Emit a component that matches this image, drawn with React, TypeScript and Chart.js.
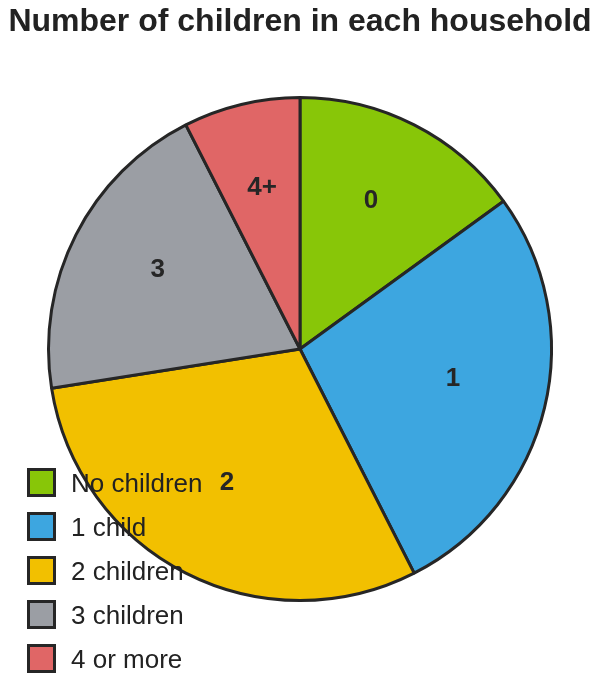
import React, { useEffect, useRef } from 'react';
import Chart from 'chart.js/auto';

// slice order: clockwise from 12 o'clock
const categories = ['0', '1', '2', '3', '4+'];
const legendLabels = ['No children', '1 child', '2 children', '3 children', '4 or more'];
const shares = [15, 27.5, 30, 20, 7.5];
const colors = ['#88c608', '#3da6e0', '#f2c000', '#9b9ea4', '#e06666'];

const FONT = '"Liberation Sans", Arial, Helvetica, sans-serif';
const INK = '#262626';

// numbers drawn inside each slice
const sliceLabels = {
    id: 'sliceLabels',
    afterDatasetsDraw(chart: any) {
        const ctx = chart.ctx;
        const meta = chart.getDatasetMeta(0);
        ctx.save();
        ctx.font = `bold 26px ${FONT}`;
        ctx.fillStyle = INK;
        ctx.textAlign = 'center';
        ctx.textBaseline = 'alphabetic';
        meta.data.forEach((arc: any, i: number) => {
            const { x, y, startAngle, endAngle, outerRadius } = arc.getProps(
                ['x', 'y', 'startAngle', 'endAngle', 'outerRadius'], true);
            const mid = (startAngle + endAngle) / 2;
            const r = outerRadius * 0.63;
            ctx.fillText(categories[i], x + Math.cos(mid) * r - 1, y + Math.sin(mid) * r);
        });
        ctx.restore();
    },
};

// legend sits on top of the pie, bottom-left corner
const boxLegend = {
    id: 'boxLegend',
    afterDraw(chart: any) {
        const ctx = chart.ctx;
        ctx.save();
        ctx.font = `26px ${FONT}`;
        ctx.textAlign = 'left';
        ctx.textBaseline = 'alphabetic';
        legendLabels.forEach((label, i) => {
            const cy = 482.5 + i * 44;
            ctx.fillStyle = colors[i];
            ctx.fillRect(28.5, cy - 13, 26, 26);
            ctx.lineWidth = 3;
            ctx.strokeStyle = INK;
            ctx.strokeRect(28.5, cy - 13, 26, 26);
            ctx.fillStyle = '#222';
            ctx.fillText(label, 71, cy + 9.3);
        });
        ctx.restore();
    },
};

const App: React.FC = () => {
    const chartRef = useRef<HTMLCanvasElement | null>(null);

    useEffect(() => {
        const ctx = chartRef.current?.getContext('2d');
        if (!ctx) return;

        const chart = new Chart(ctx, {
            type: 'pie',
            data: {
                labels: legendLabels,
                datasets: [{
                    data: shares,
                    backgroundColor: colors,
                    borderColor: INK,
                    borderWidth: 3,
                }],
            },
            options: {
                responsive: false,
                animation: false,
                layout: { padding: { top: 0, bottom: 83, left: 0, right: 0 } },
                plugins: {
                    title: {
                        display: true,
                        text: 'Number of children in each household',
                        color: '#222',
                        font: { family: FONT, size: 32, weight: 'bold' },
                        padding: { top: 3, bottom: 54.6 },
                    },
                    legend: { display: false },
                    tooltip: { enabled: false },
                },
            },
            plugins: [sliceLabels, boxLegend],
        });

        return () => {
            chart.destroy();
        };
    }, []);

    return (
        <div style={{ position: 'absolute', left: 0, top: 0, width: 600, height: 685, background: '#fff' }}>
            <canvas ref={chartRef} width={600} height={685}></canvas>
        </div>
    );
};

export default App;
